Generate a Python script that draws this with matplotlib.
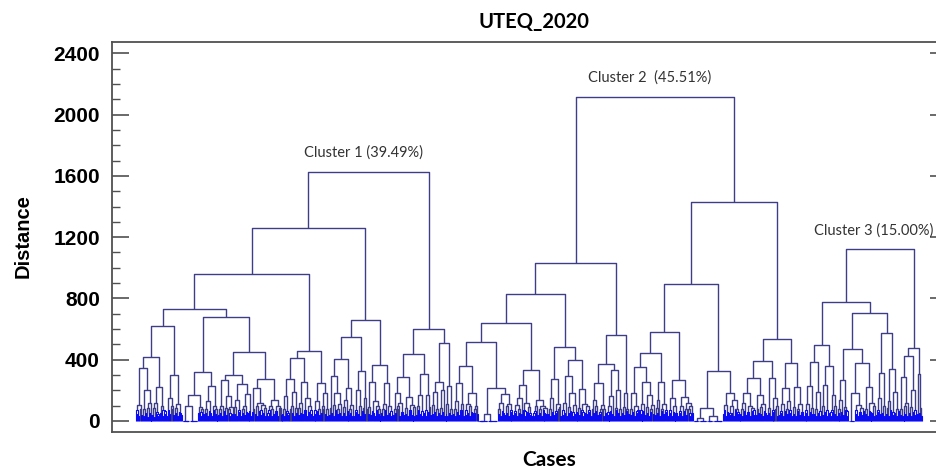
import numpy as np
import matplotlib
matplotlib.use('Agg')
import matplotlib.pyplot as plt
from matplotlib.collections import LineCollection

# merge heights between neighbouring cases, read left to right
# (one row per small group, last value of a row = link to the next group)
cluster1_gaps = [
    45, 70, 30, 104, 80, 40, 346,
    35, 75, 50, 202, 28, 85, 55, 120, 40, 420,
    40, 85, 25, 120, 60, 45, 30, 224, 50, 95, 70, 35, 65, 45, 622,
    35, 70, 45, 150, 80, 95, 40, 300, 55, 85, 30, 110, 60, 50, 38, 733,
    1, 2, 1, 2, 1, 1, 2, 97, 2, 1, 1, 2, 1, 2, 1, 170, 50, 90, 35, 60, 80, 45, 317,
    50, 80, 30, 130, 65, 55, 35, 230, 70, 100, 45, 75, 30, 680,
    40, 75, 50, 95, 30, 267, 65, 85, 40, 160, 75, 55, 30, 90, 45, 300,
    45, 90, 35, 140, 70, 60, 30, 240, 50, 75, 40, 100, 60, 175, 35, 50, 65, 448,
    30, 60, 80, 214, 45, 95, 30, 120, 65, 70, 40, 105, 55, 85, 35, 272,
    30, 50, 70, 95, 35, 80, 45, 137, 60, 65, 30, 100, 75, 85, 40, 957,
    45, 80, 35, 160, 65, 55, 40, 274, 75, 100, 50, 190, 30, 85, 55, 413,
    40, 85, 55, 120, 45, 257, 70, 65, 35, 150, 60, 95, 45, 70, 30, 454,
    45, 70, 30, 130, 65, 80, 40, 250, 55, 95, 75, 180, 45, 80, 35, 1257,
    40, 85, 55, 293, 35, 105, 70, 180, 45, 75, 50, 110, 30, 404,
    50, 90, 30, 140, 65, 217, 40, 75, 50, 105, 35, 546,
    35, 70, 60, 200, 45, 95, 30, 328, 65, 85, 45, 150, 75, 659,
    45, 90, 40, 257, 65, 55, 30, 130, 70, 100, 45, 75, 35, 367,
    55, 80, 35, 110, 70, 250, 40, 95, 55, 65, 30, 1626,
    40, 75, 50, 180, 80, 100, 35, 120, 60, 55, 40, 289,
    45, 85, 30, 159, 65, 70, 40, 105, 55, 90, 35, 435,
    40, 95, 70, 170, 45, 65, 30, 306,
    50, 70, 35, 170, 60, 90, 40, 598,
    45, 105, 60, 191, 30, 80, 50, 254,
    40, 85, 60, 200, 35, 511,
    45, 110, 30, 228, 55, 75, 40,
]

cluster2_gaps = [
    45, 80, 35, 130, 60, 245, 40, 65, 70, 110, 30, 359,
    40, 70, 50, 110, 30, 95, 60, 185, 45, 55, 75, 100, 45, 517,
    1, 2, 1, 1, 2, 1, 3, 1, 2, 46, 2, 1, 1, 2, 1, 2, 1, 1, 2, 213,
    45, 75, 35, 120, 65, 55, 40, 176, 55, 95, 30, 110, 60, 70, 35, 637,
    40, 65, 50, 105, 30, 80, 55, 150, 45, 235, 70, 65, 35, 115, 60, 90, 40, 55, 30, 333,
    35, 55, 65, 95, 40, 137, 50, 75, 30, 100, 70, 50, 35, 85, 45, 830,
    45, 80, 30, 150, 60, 272, 40, 65, 50, 110, 75, 90, 35, 485,
    40, 70, 55, 120, 35, 293, 50, 90, 65, 180, 30, 60, 45, 105, 60, 398,
    50, 85, 40, 207, 70, 60, 30, 110, 55, 95, 45, 70, 60, 1033,
    35, 75, 50, 140, 65, 95, 40, 248, 45, 60, 75, 105, 30, 80, 50, 370,
    40, 60, 30, 100, 65, 160, 45, 330, 35, 85, 70, 200, 50, 75, 35, 561,
    55, 90, 40, 183, 65, 75, 45, 2116,
    40, 80, 60, 183, 30, 100, 50, 65, 70, 350,
    45, 70, 35, 110, 65, 257, 40, 90, 55, 170, 30, 60, 75, 105, 45, 443,
    40, 85, 55, 140, 30, 257, 65, 75, 45, 110, 70, 60, 35, 583,
    50, 70, 30, 150, 60, 95, 40, 55, 45, 268,
    35, 65, 50, 100, 30, 159, 65, 80, 40, 120, 75, 50, 35, 95, 55, 892,
    1, 2, 1, 3, 2, 18, 1, 2, 1, 3, 1, 2, 1, 82,
    2, 1, 1, 2, 1, 35, 1, 2, 1, 3, 1, 2, 1, 1, 2, 326,
    45, 70, 30, 105, 60, 181, 40, 55, 50, 95, 30, 140, 70, 75, 45, 60, 35, 1429,
    45, 80, 35, 120, 65, 183, 40, 60, 55, 100, 30, 85, 65, 70, 40, 278,
    40, 75, 55, 170, 45, 90, 30, 110, 65, 55, 40, 391,
    50, 85, 35, 280, 60, 70, 40, 150, 75, 95, 30, 533,
    40, 65, 50, 110, 30, 215, 65, 80, 45, 130, 55, 70, 35, 380,
    45, 90, 30, 224, 65, 75, 40, 110, 55, 60, 35,
]

cluster3_gaps = [
    40, 70, 55, 110, 30, 230, 60, 85, 45, 387,
    45, 80, 35, 191, 55, 65, 30, 496,
    40, 95, 60, 235, 35, 70, 50, 359,
    35, 60, 70, 170, 45, 100, 30, 778,
    50, 75, 30, 140, 60, 268, 40, 90, 70, 65, 35, 468,
    1, 2, 1, 2, 1, 180, 45, 70, 35, 105, 60, 55, 40, 85, 65, 376,
    45, 80, 30, 224, 65, 60, 40, 120, 50, 95, 35, 706,
    40, 70, 60, 150, 45, 315, 50, 100, 30, 572,
    45, 85, 35, 130, 70, 337, 40, 60, 55, 190, 30, 75, 65, 1122,
    40, 75, 30, 289, 60, 95, 45, 120, 35, 424,
    50, 90, 35, 202, 60, 70, 40, 474,
    45, 305, 55, 85, 35,
]

cluster_labels = ['Cluster 1 (39.49%)', 'Cluster 2  (45.51%)', 'Cluster 3 (15.00%)']
y_ticks = [0, 400, 800, 1200, 1600, 2000, 2400]

NAVY = '#3e3e88'
BLUE = '#0a0af5'


def draw_tree(gaps, offset, navy_segs, blue_segs):
    '''build the dendrogram from the in-order merge heights (biggest gap = root)'''
    gaps = np.asarray(gaps, dtype=float)

    def build(lo, hi):
        if lo == hi:
            return lo + offset, 0.0
        k = lo + int(np.argmax(gaps[lo:hi]))
        xl, hl = build(lo, k)
        xr, hr = build(k + 1, hi)
        h = gaps[k]
        seg = [(xl, hl), (xl, h), (xr, h), (xr, hr)]
        # dense low merges show up bright blue
        if h < 75 and (xr - xl) < 6:
            blue_segs.append(seg)
        else:
            navy_segs.append(seg)
        return (xl + xr) / 2, h

    top = build(0, len(gaps))
    return top, offset + len(gaps) + 1


fig = plt.figure(figsize=(9.36, 4.70), dpi=100)
ax = fig.add_axes([0.1193, 0.0802, 0.8924, 0.8298])

navy_segs, blue_segs = [], []
tops = []
start = 0
for gaps in [cluster1_gaps, cluster2_gaps, cluster3_gaps]:
    top, start = draw_tree(gaps, start, navy_segs, blue_segs)
    tops.append(top)

ax.add_collection(LineCollection(navy_segs, colors=NAVY, linewidths=1.0))
ax.add_collection(LineCollection(blue_segs, colors=BLUE, linewidths=0.8))

# leaves span 136..922 px, spines at 111.7 and 947 px
n_leaves = start
step = 786 / (n_leaves - 1)
ax.set_xlim(-24.3 / step, n_leaves - 1 + 25 / step)
ax.set_ylim(-74, 2472)

for (x, h), label in zip(tops, cluster_labels):
    ax.annotate(label, xy=(x, h), xytext=(-4, 8.5), textcoords='offset points',
                ha='center', va='bottom', fontsize=10.5, family='Lato',
                color='#333333')

# axis styling
for sp in ax.spines.values():
    sp.set_color('#505050')
    sp.set_linewidth(1.3)
ax.set_xticks([])
ax.set_yticks(y_ticks)
ax.set_yticks(np.arange(0, 2500, 100), minor=True)
ax.yaxis.set_ticks_position('both')
ax.tick_params(axis='y', which='major', direction='in', length=12.2, width=1.2,
               color='#505050', pad=8.4, labelright=False, labelsize=15,
               labelfontfamily='Liberation Sans')
ax.tick_params(axis='y', which='minor', direction='in', length=5.8, width=1.0,
               color='#505050', right=False)
for lab in ax.get_yticklabels():
    lab.set_fontweight('bold')

fig.text(534 / 936, 1 - 22 / 470, 'UTEQ_2020', ha='center', va='center',
         fontsize=14.5, fontweight='bold', family='Lato')
fig.text(23 / 936, 1 - 236 / 470, 'Distance', ha='center', va='center',
         rotation=90, fontsize=14.5, fontweight='bold', family='Liberation Sans')
fig.text(549 / 936, 1 - 460 / 470, 'Cases', ha='center', va='center',
         fontsize=15, fontweight='bold', family='Lato')

fig.savefig('out.png', dpi=100)
